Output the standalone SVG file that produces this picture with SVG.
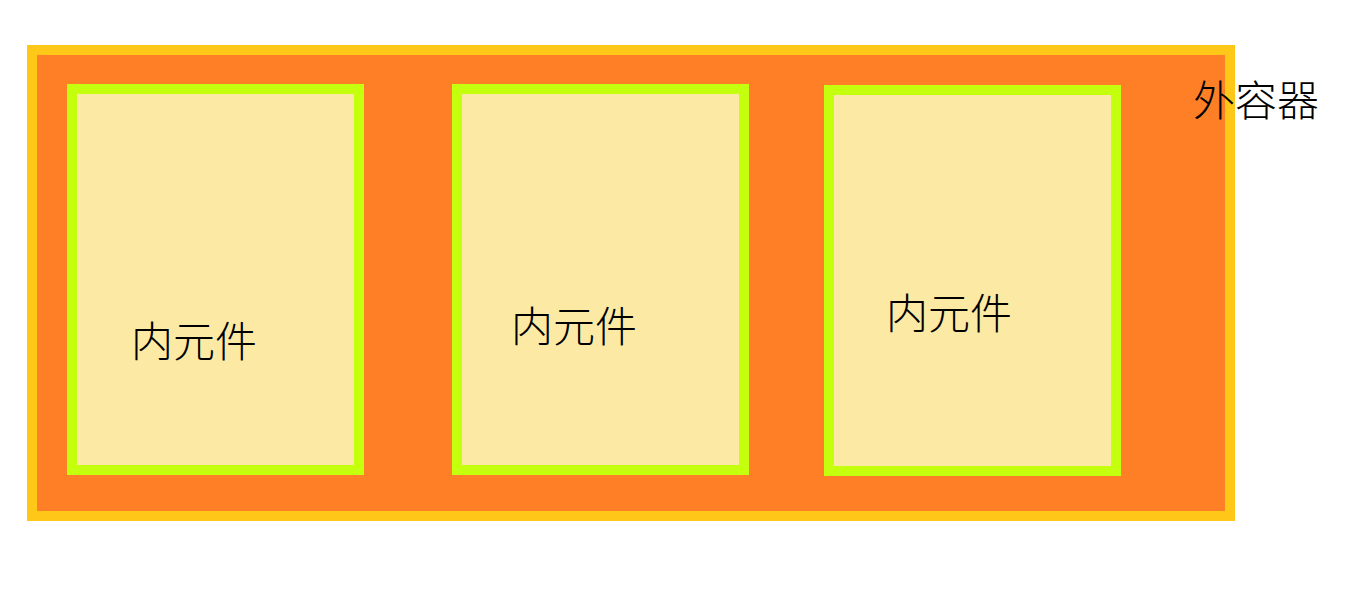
<svg xmlns="http://www.w3.org/2000/svg" width="1350" height="589" viewBox="0 0 1350 589">
  <style>
    .outer { fill: #FF7F27; stroke: #FFC819; stroke-width: 10; }
    .inner { fill: #FCEAA4; stroke: #C4FF0E; stroke-width: 10; }
    .label { font-family: "Noto Sans CJK SC", "Noto Sans", sans-serif; font-size: 42px; font-weight: 300; fill: #000000; }
  </style>
  <rect width="1350" height="589" fill="#FFFFFF"/>
  <g id="outer-container">
    <rect class="outer" x="32" y="50" width="1198" height="466"/>
    <text class="label" x="1193" y="116">外容器</text>
  </g>
  <g id="inner-1">
    <rect class="inner" x="72" y="89" width="287" height="381"/>
    <text class="label" x="131" y="357">内元件</text>
  </g>
  <g id="inner-2">
    <rect class="inner" x="457" y="89" width="287" height="381"/>
    <text class="label" x="511" y="342">内元件</text>
  </g>
  <g id="inner-3">
    <rect class="inner" x="829" y="90" width="287" height="381"/>
    <text class="label" x="886" y="329">内元件</text>
  </g>
  <g id="connectors"></g>
</svg>
